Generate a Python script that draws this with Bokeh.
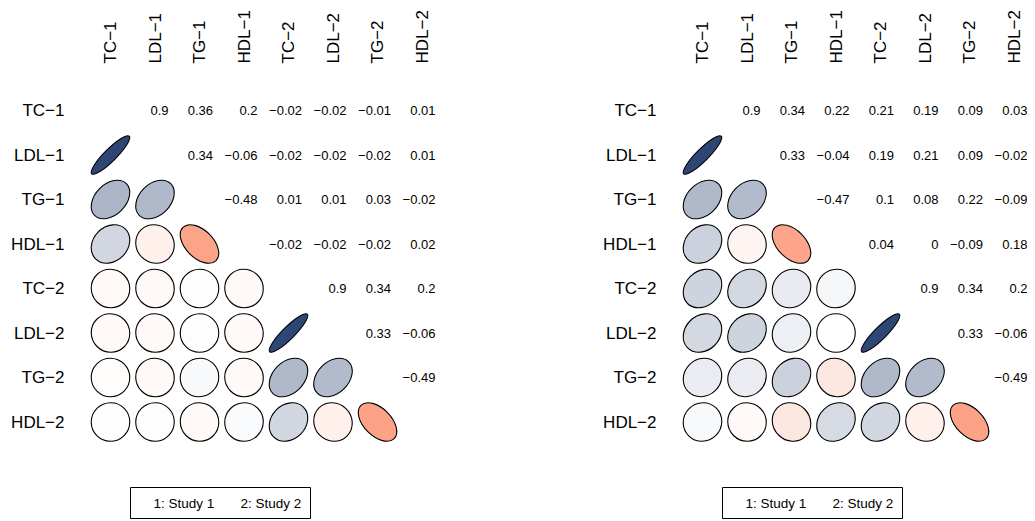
import math
from bokeh.plotting import figure
from bokeh.layouts import row
from bokeh.models import Range1d, ColumnDataSource
from bokeh.core.properties import value
from bokeh.embed import file_html
from bokeh.resources import INLINE

variables = ["TC\u22121", "LDL\u22121", "TG\u22121", "HDL\u22121",
             "TC\u22122", "LDL\u22122", "TG\u22122", "HDL\u22122"]

# upper-triangle correlations, row i lists columns i+1..7
study1_upper = [
    [0.9, 0.36, 0.2, -0.02, -0.02, -0.01, 0.01],
    [0.34, -0.06, -0.02, -0.02, -0.02, 0.01],
    [-0.48, 0.01, 0.01, 0.03, -0.02],
    [-0.02, -0.02, -0.02, 0.02],
    [0.9, 0.34, 0.2],
    [0.33, -0.06],
    [-0.49],
]
study2_upper = [
    [0.9, 0.34, 0.22, 0.21, 0.19, 0.09, 0.03],
    [0.33, -0.04, 0.19, 0.21, 0.09, -0.02],
    [-0.47, 0.1, 0.08, 0.22, -0.09],
    [0.04, 0.0, -0.09, 0.18],
    [0.9, 0.34, 0.2],
    [0.33, -0.06],
    [-0.49],
]
legend_labels = ["1: Study 1", "2: Study 2"]

# colour ramp stops (correlation -> rgb)
ramp_r = [-1.0, -0.5, -0.1, 0.0, 0.34, 1.0]
ramp_c = [(200, 40, 40), (252, 160, 132), (253, 230, 222), (255, 255, 255),
          (176, 185, 202), (23, 49, 99)]

CELL = 44.5
FONT = value("Liberation Sans")
HEIGHT = 519


def color_of(r):
    for k in range(len(ramp_r) - 1):
        a, b = ramp_r[k], ramp_r[k + 1]
        if a <= r <= b:
            t = (r - a) / (b - a)
            c = [round(ramp_c[k][m] + t * (ramp_c[k + 1][m] - ramp_c[k][m])) for m in range(3)]
            return "#%02x%02x%02x" % tuple(c)
    return "#ffffff"


def fmt(r):
    s = ("%.2f" % abs(r)).rstrip("0").rstrip(".")
    if s == "":
        s = "0"
    if r < 0 and s != "0":
        s = "\u2212" + s
    return s


def panel(upper, width, col0_px):
    top_px = 110.0
    x0 = -col0_px / CELL
    y1 = top_px / CELL
    p = figure(width=width, height=HEIGHT, output_backend="svg", toolbar_location=None,
               x_range=Range1d(x0, x0 + width / CELL), y_range=Range1d(y1 - HEIGHT / CELL, y1),
               min_border=0, outline_line_color=None)
    p.axis.visible = False
    p.grid.visible = False
    n = len(variables)

    ex, ey, ew, eh, ec = [], [], [], [], []
    tx, ty, tt = [], [], []
    r0 = 0.433
    for i in range(n - 1):
        for k, r in enumerate(upper[i]):
            j = i + 1 + k
            # number in upper triangle (row i, col j)
            tx.append(j + 13.5 / CELL)
            ty.append(-i)
            tt.append(fmt(r))
            # ellipse in lower triangle (row j, col i)
            a = math.acos(max(-1.0, min(1.0, r))) / 2.0
            ex.append(i)
            ey.append(-j)
            ew.append(2 * r0 * math.sqrt(2) * math.cos(a))
            eh.append(2 * r0 * math.sqrt(2) * math.sin(a))
            ec.append(color_of(r))

    p.ellipse(x="x", y="y", width="w", height="h", angle=math.pi / 4,
              fill_color="c", line_color="black", line_width=1.1,
              source=ColumnDataSource(dict(x=ex, y=ey, w=ew, h=eh, c=ec)))
    p.text(x=tx, y=ty, text=tt, text_align="right", text_baseline="middle",
           text_font=FONT, text_font_size="13px", text_color="black")

    idx = list(range(n))
    p.text(x=[-46 / CELL] * n, y=[-i for i in idx], text=variables,
           text_align="right", text_baseline="middle", text_font=FONT,
           text_font_size="17px", text_color="black")
    p.text(x=idx, y=[47 / CELL] * n, text=variables, angle=math.pi / 2,
           text_align="left", text_baseline="middle", text_font=FONT,
           text_font_size="17px", text_color="black")

    # legend box
    bx0, bx1 = 20 / CELL, 200 / CELL
    by_top, by_bot = -377 / CELL, -408 / CELL
    p.quad(left=[bx0], right=[bx1], top=[by_top], bottom=[by_bot],
           fill_color=None, line_color="black", line_width=1)
    p.text(x=[43 / CELL, 130 / CELL], y=[(by_top + by_bot) / 2] * 2, text=legend_labels,
           text_align="left", text_baseline="middle", text_font=FONT,
           text_font_size="13.5px", text_color="black")
    return p


p1 = panel(study1_upper, 510, 110)
p2 = panel(study2_upper, 517, 192)
layout = row(p1, p2)

open("out.html", "w").write(file_html(layout, INLINE))
